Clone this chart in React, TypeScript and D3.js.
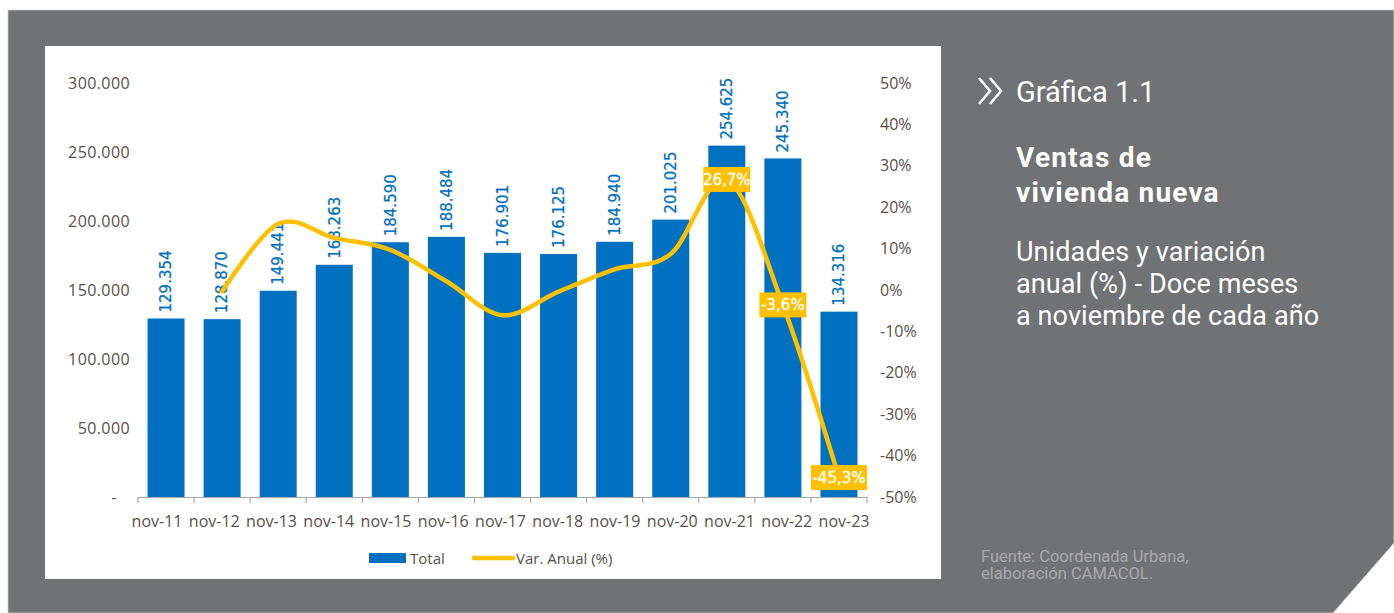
import { scaleBand, scaleLinear, scalePoint, line, curveCatmullRom, formatLocale } from "d3";

const W = 1394;
const H = 613;

const categories = ["nov-11", "nov-12", "nov-13", "nov-14", "nov-15", "nov-16", "nov-17", "nov-18", "nov-19", "nov-20", "nov-21", "nov-22", "nov-23"];
const totals = [129354, 128870, 149441, 168263, 184590, 188484, 176901, 176125, 184940, 201025, 254625, 245340, 134316];
// annual variation (%), first year has no value
const variation = [null, -0.4, 16.0, 12.6, 9.7, 2.1, -6.1, -0.4, 5.0, 8.7, 26.7, -3.6, -45.3];
const labeledVar = ["nov-21", "nov-22", "nov-23"];
const leftTicks = [0, 50000, 100000, 150000, 200000, 250000, 300000];
const rightTicks = [-50, -40, -30, -20, -10, 0, 10, 20, 30, 40, 50];

const subtitle = ["Unidades y variación", "anual (%) - Doce meses", "a noviembre de cada año"];
const title = ["Ventas de", "vivienda nueva"];
const source = ["Fuente: Coordenada Urbana,", "elaboración CAMACOL."];

const BLUE = "#0070C0";
const YELLOW = "#FFC000";
const GRAY = "#717274";
const AXIS_TEXT = "#57504c";

const es = formatLocale({ decimal: ",", thousands: ".", grouping: [3], currency: ["$", ""], minus: "-" });
const fmtInt = es.format(",d");
const fmtPct = es.format(".1f");

export default function App() {
    const x = scaleBand().domain(categories).range([138, 867]).paddingInner(0.34).paddingOuter(0.17);
    // category labels in the source sit on a slightly wider spacing than the bars
    const xLab = scalePoint().domain(categories).range([157, 844]);
    const yL = scaleLinear().domain([0, 300000]).range([497, 83]);
    const yR = scaleLinear().domain([-50, 50]).range([497, 83]);
    const cx = (c) => x(c) + x.bandwidth() / 2;

    const pts = categories.map((c, i) => ({ c, v: variation[i] })).filter(d => d.v !== null);
    const path = line().x(d => cx(d.c)).y(d => yR(d.v)).curve(curveCatmullRom.alpha(0))(pts);

    const gap = (x.step() - x.bandwidth()) / 2;
    const tickXs = categories.map(c => x(c) - gap).concat([x.range()[1]]);

    return (
        <svg width={W} height={H} style={{ position: "absolute", left: 0, top: 0 }}>
            <rect width={W} height={H} fill="#fff" />
            <polygon points={`8,10 ${W},10 ${W},543 1333,${H} 8,${H}`} fill={GRAY} stroke="#c9c9c9" strokeWidth={0.8} />
            <rect x={45} y={46} width={896} height={533} fill="#fff" />

            {/* axes text */}
            <g fontFamily="'Open Sans', sans-serif" fontSize={16} fill={AXIS_TEXT}>
                {leftTicks.map(t => (
                    <text key={t} x={t === 0 ? 117 : 130} y={yL(t)} dy="0.35em" textAnchor="end" letterSpacing={0.4}>{t === 0 ? "-" : fmtInt(t)}</text>
                ))}
                {rightTicks.map(t => (
                    <text key={t} x={880} y={yR(t)} dy="0.35em">{fmtInt(t)}%</text>
                ))}
                {categories.map(c => (
                    <text key={c} x={xLab(c)} y={527} textAnchor="middle">{c}</text>
                ))}
            </g>

            {/* bars */}
            {categories.map((c, i) => (
                <rect key={c} x={x(c)} y={yL(totals[i])} width={x.bandwidth()} height={yL(0) - yL(totals[i])} fill={BLUE} />
            ))}

            {/* x axis */}
            <line x1={138} x2={867} y1={497.5} y2={497.5} stroke="#a6a6a6" strokeWidth={1.2} />
            {tickXs.map((t, i) => (
                <line key={i} x1={t} x2={t} y1={497} y2={503} stroke="#a6a6a6" strokeWidth={1.2} />
            ))}

            {/* bar labels */}
            {categories.map((c, i) => (
                <text key={c} transform={`translate(${cx(c)},${yL(totals[i]) - 6}) rotate(-90)`} dy="0.35em"
                    fontFamily="'DejaVu Sans', sans-serif" fontSize={15} fill={BLUE} stroke={BLUE} strokeWidth={0.25}>{fmtInt(totals[i])}</text>
            ))}

            {/* variation line */}
            <path d={path} fill="none" stroke={YELLOW} strokeWidth={4.5} strokeLinecap="round" />

            {pts.filter(d => labeledVar.includes(d.c)).map(d => {
                const label = fmtPct(d.v) + "%";
                const w = label.length * 9 + 2;
                return (
                    <g key={d.c}>
                        <rect x={cx(d.c) - w / 2} y={yR(d.v) - 12.5} width={w} height={25} fill={YELLOW} />
                        <text x={cx(d.c)} y={yR(d.v)} dy="0.36em" textAnchor="middle" fontFamily="'DejaVu Sans', sans-serif"
                            fontSize={15} fill="#fff" stroke="#fff" strokeWidth={0.3}>{label}</text>
                    </g>
                );
            })}

            {/* legend */}
            <g fontFamily="'Open Sans', sans-serif" fontSize={15} fill={AXIS_TEXT}>
                <rect x={369} y={553} width={37} height={10} fill={BLUE} />
                <text x={410} y={564}>Total</text>
                <line x1={474} x2={513} y1={558} y2={558} stroke={YELLOW} strokeWidth={4.5} strokeLinecap="round" />
                <text x={516} y={564}>Var. Anual (%)</text>
            </g>

            {/* side panel */}
            <g fill="none" stroke="#fff" strokeWidth={2.6}>
                <polyline points="979,78 990,91 979,104" />
                <polyline points="990,78 1001,91 990,104" />
            </g>
            <g fontFamily="Roboto, sans-serif" fill="#fff">
                <text x={1016} y={102} fontSize={29} fontWeight={400}>Gráfica 1.1</text>
                {title.map((s, i) => (
                    <text key={i} x={1016} y={167 + i * 35} fontSize={28} fontWeight={700} letterSpacing={1.2}>{s}</text>
                ))}
                {subtitle.map((s, i) => (
                    <text key={i} x={1016} y={261 + i * 32} fontSize={27} fontWeight={400} letterSpacing={0.1}>{s}</text>
                ))}
            </g>
            <g fontFamily="Roboto, sans-serif" fontSize={16.5} fill="#a9a9ab">
                {source.map((s, i) => (
                    <text key={i} x={981} y={562 + i * 16.5}>{s}</text>
                ))}
            </g>
        </svg>
    );
}
